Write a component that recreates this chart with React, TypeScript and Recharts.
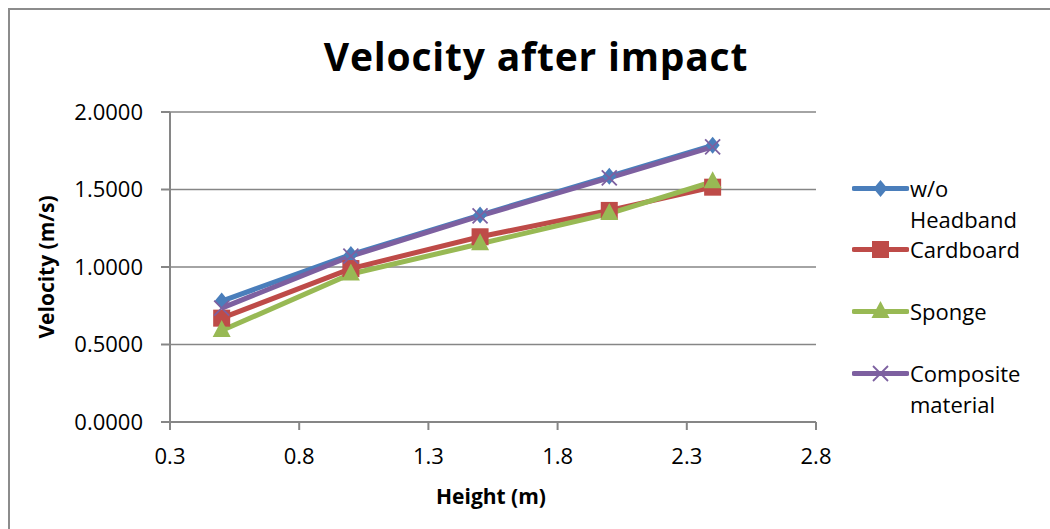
import { CartesianGrid, Line, LineChart, XAxis, YAxis } from 'recharts'

// drop height (m) and measured velocity after impact (m/s) per headband type
const heights = [0.5, 1.0, 1.5, 2.0, 2.4]
const withoutHeadband = [0.78, 1.08, 1.335, 1.585, 1.785]
const cardboard = [0.67, 0.99, 1.195, 1.365, 1.515]
const sponge = [0.59, 0.955, 1.15, 1.345, 1.55]
const composite = [0.735, 1.07, 1.33, 1.575, 1.775]

const xTicks = [0.3, 0.8, 1.3, 1.8, 2.3, 2.8]
const yTicks = [0, 0.5, 1, 1.5, 2]

type MarkerKind = 'diamond' | 'square' | 'triangle' | 'cross'

const SERIES: { key: string; name: string; color: string; marker: MarkerKind; values: number[] }[] = [
  { key: 'none', name: 'w/o Headband', color: '#4A7EBB', marker: 'diamond', values: withoutHeadband },
  { key: 'cardboard', name: 'Cardboard', color: '#BE4B48', marker: 'square', values: cardboard },
  { key: 'sponge', name: 'Sponge', color: '#98B954', marker: 'triangle', values: sponge },
  { key: 'composite', name: 'Composite material', color: '#7D60A0', marker: 'cross', values: composite },
]

const data = heights.map((h, i) => {
  const row: Record<string, number> = { h }
  SERIES.forEach((s) => (row[s.key] = s.values[i]))
  return row
})

const FONT = "'Open Sans', sans-serif"
const AXIS = '#868686'

function Marker({ kind, cx, cy, color }: { kind: MarkerKind; cx: number; cy: number; color: string }) {
  if (kind === 'diamond')
    return <path d={`M${cx},${cy - 8.5} L${cx + 7},${cy} L${cx},${cy + 8.5} L${cx - 7},${cy} Z`} fill={color} />
  if (kind === 'square') return <rect x={cx - 8.5} y={cy - 8.5} width={17} height={17} fill={color} />
  if (kind === 'triangle')
    return <path d={`M${cx},${cy - 10.5} L${cx + 9},${cy + 6.5} L${cx - 9},${cy + 6.5} Z`} fill={color} />
  return (
    <g stroke={color} strokeWidth={1.8}>
      <line x1={cx - 7.5} y1={cy - 7.5} x2={cx + 7.5} y2={cy + 7.5} />
      <line x1={cx - 7.5} y1={cy + 7.5} x2={cx + 7.5} y2={cy - 7.5} />
    </g>
  )
}

function LegendBlock() {
  return (
    <div style={{ position: 'absolute', left: 852, top: 0, fontFamily: FONT, fontSize: 22 }}>
      {SERIES.map((s, i) => (
        <div
          key={s.key}
          style={{ position: 'absolute', top: 188 + i * 61.7 - 15.5, left: 0, display: 'flex', alignItems: 'flex-start' }}
        >
          <svg width={57} height={31} style={{ flex: 'none' }}>
            <line x1={2} y1={15.5} x2={55} y2={15.5} stroke={s.color} strokeWidth={5} strokeLinecap="round" />
            <Marker kind={s.marker} cx={28.5} cy={15.5} color={s.color} />
          </svg>
          <div style={{ width: 125, lineHeight: '31px', color: '#000', marginLeft: 1 }}>{s.name}</div>
        </div>
      ))}
    </div>
  )
}

export default function App() {
  return (
    <div style={{ position: 'fixed', left: 0, top: 0, width: 1050, height: 529, overflow: 'hidden', background: '#fff' }}>
      <div style={{ position: 'absolute', left: 8, top: 8, width: 1100, height: 600, border: '2px solid #8c8c8c' }} />
      <div style={{ position: 'absolute', left: 0, top: 0 }}>
        <LineChart width={1050} height={529} data={data} margin={{ top: 112, right: 234, bottom: 67, left: 100 }}>
          <CartesianGrid vertical={false} stroke={AXIS} strokeWidth={1.5} />
          <XAxis
            type="number"
            dataKey="h"
            domain={[0.3, 2.8]}
            ticks={xTicks}
            interval={0}
            height={40}
            tickSize={8}
            tickMargin={18}
            stroke={AXIS}
            strokeWidth={2}
            tick={{ fill: '#000', fontSize: 22, fontFamily: FONT }}
            tickFormatter={(v: number) => v.toFixed(1)}
          />
          <YAxis
            type="number"
            domain={[0, 2]}
            ticks={yTicks}
            interval={0}
            width={70}
            tickSize={9}
            tickMargin={18}
            stroke={AXIS}
            strokeWidth={2}
            tick={{ fill: '#000', fontSize: 22, fontFamily: FONT }}
            tickFormatter={(v: number) => v.toFixed(4)}
          />
          {SERIES.map((s) => (
            <Line
              key={s.key}
              dataKey={s.key}
              name={s.name}
              type="linear"
              stroke={s.color}
              strokeWidth={5}
              isAnimationActive={false}
              dot={(p: any) => <Marker key={`${s.key}-${p.index}`} kind={s.marker} cx={p.cx} cy={p.cy} color={s.color} />}
              activeDot={false}
            />
          ))}
        </LineChart>
      </div>
      <svg width={1050} height={529} style={{ position: 'absolute', left: 0, top: 0, pointerEvents: 'none' }}>
        <text x={536} y={71} textAnchor="middle" fontFamily={FONT} fontSize={39} fontWeight={700} letterSpacing={0.8}>
          Velocity after impact
        </text>
        <text
          transform="translate(54,267) rotate(-90)"
          textAnchor="middle"
          fontFamily={FONT}
          fontSize={21}
          fontWeight={700}
        >
          Velocity (m/s)
        </text>
        <text x={491} y={504} textAnchor="middle" fontFamily={FONT} fontSize={21} fontWeight={700}>
          Height (m)
        </text>
      </svg>
      <LegendBlock />
    </div>
  )
}
